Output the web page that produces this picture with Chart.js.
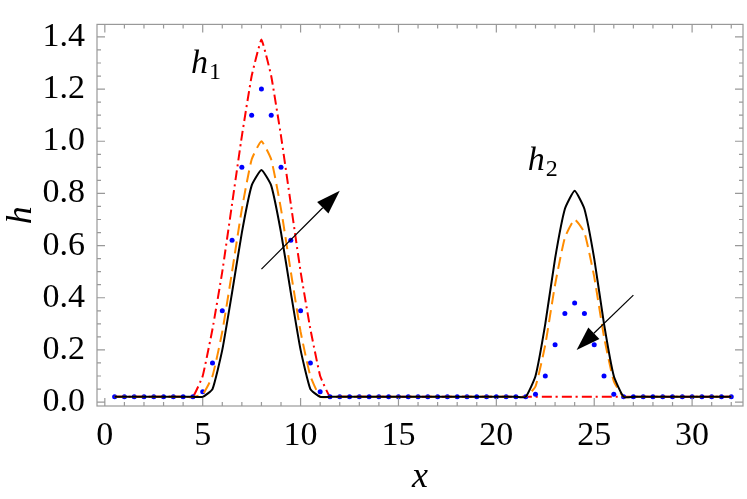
<!DOCTYPE html>
<html>
<head>
<script src="https://cdn.jsdelivr.net/npm/chart.js@4"></script>
<style>body{margin:0;background:#fff}#wrap{width:747px;height:499px}</style>
</head>
<body>
<div id="wrap"><canvas id="chart"></canvas></div>
<script>
// x positions, step 0.5
const xs = [0.5,1,1.5,2,2.5,3,3.5,4,4.5,5,5.5,6,6.5,7,7.5,8,8.5,9,9.5,10,10.5,11,11.5,12,12.5,13,13.5,14,14.5,15,15.5,16,
  16.5,17,17.5,18,18.5,19,19.5,20,20.5,21,21.5,22,22.5,23,23.5,24,24.5,25,25.5,26,26.5,27,27.5,28,28.5,29,29.5,30,30.5,31,31.5,32];
const black = [0.02,0.02,0.02,0.02,0.02,0.02,0.02,0.02,0.02,0.02,0.05,0.2,0.42,0.65,0.83,0.89,0.83,0.65,0.42,0.2,0.05,0.02,0.02,0.02,0.02,0.02,0.02,0.02,0.02,0.02,0.02,0.02,
  0.02,0.02,0.02,0.02,0.02,0.02,0.02,0.02,0.02,0.02,0.02,0.1,0.3,0.55,0.74,0.81,0.74,0.55,0.3,0.1,0.02,0.02,0.02,0.02,0.02,0.02,0.02,0.02,0.02,0.02,0.02,0.02];
const orange = [0.02,0.02,0.02,0.02,0.02,0.02,0.02,0.02,0.02,0.03,0.1,0.27,0.5,0.74,0.93,1.0,0.93,0.74,0.5,0.27,0.1,0.02,0.02,0.02,0.02,0.02,0.02,0.02,0.02,0.02,0.02,0.02,
  0.02,0.02,0.02,0.02,0.02,0.02,0.02,0.02,0.02,0.02,0.02,0.06,0.22,0.45,0.63,0.7,0.65,0.48,0.25,0.08,0.02,0.02,0.02,0.02,0.02,0.02,0.02,0.02,0.02,0.02,0.02,0.02];
const blue = [0.02,0.02,0.02,0.02,0.02,0.02,0.02,0.02,0.02,0.04,0.15,0.35,0.62,0.9,1.1,1.2,1.1,0.9,0.62,0.35,0.15,0.04,0.02,0.02,0.02,0.02,0.02,0.02,0.02,0.02,0.02,0.02,
  0.02,0.02,0.02,0.02,0.02,0.02,0.02,0.02,0.02,0.02,0.02,0.03,0.1,0.22,0.34,0.38,0.34,0.22,0.1,0.03,0.02,0.02,0.02,0.02,0.02,0.02,0.02,0.02,0.02,0.02,0.02,0.02];
const red = [0.02,0.02,0.02,0.02,0.02,0.02,0.02,0.02,0.02,0.1,0.28,0.5,0.76,1.02,1.25,1.39,1.25,1.02,0.76,0.5,0.28,0.1,0.02,0.02,0.02,0.02,0.02,0.02,0.02,0.02,0.02,0.02,
  0.02,0.02,0.02,0.02,0.02,0.02,0.02,0.02,0.02,0.02,0.02,0.02,0.02,0.02,0.02,0.02,0.02,0.02,0.02,0.02,0.02,0.02,0.02,0.02,0.02,0.02,0.02,0.02,0.02,0.02,0.02,0.02];
const xTicks = [0,5,10,15,20,25,30];
const yTicks = [0,0.2,0.4,0.6,0.8,1.0,1.2,1.4];

const pts = ys => xs.map((x, i) => ({x: x, y: ys[i]}));
const serif = "Liberation Serif, DejaVu Serif, serif";

// frame, inner ticks, labels and arrows
const decor = {
  id: "decor",
  afterDraw(chart) {
    const c = chart.ctx, a = chart.chartArea, sx = chart.scales.x, sy = chart.scales.y;
    c.save();
    c.strokeStyle = "#999"; c.lineWidth = 1.2;
    c.strokeRect(a.left, a.top, a.right - a.left, a.bottom - a.top);
    for (let v = 0; v <= 32; v++) {
      const p = sx.getPixelForValue(v), len = v % 5 === 0 ? 8 : 4;
      c.beginPath(); c.moveTo(p, a.bottom); c.lineTo(p, a.bottom - len);
      c.moveTo(p, a.top); c.lineTo(p, a.top + len); c.stroke();
    }
    for (let v = 0; v <= 1.45; v += 0.05) {
      const p = sy.getPixelForValue(v), len = Math.round(v * 20) % 4 === 0 ? 8 : 4;
      c.beginPath(); c.moveTo(a.left, p); c.lineTo(a.left + len, p);
      c.moveTo(a.right, p); c.lineTo(a.right - len, p); c.stroke();
    }
    const label = (txt, sub, x, y) => {
      const px = sx.getPixelForValue(x), py = sy.getPixelForValue(y);
      c.fillStyle = "#000"; c.textBaseline = "alphabetic";
      c.font = "italic 34px " + serif; c.fillText(txt, px, py);
      const w = c.measureText(txt).width;
      c.font = "24px " + serif; c.fillText(sub, px + w + 1, py + 6);
    };
    label("h", "1", 4.4, 1.26);
    label("h", "2", 21.6, 0.89);
    const arrow = (x0, y0, x1, y1) => {
      const ax = sx.getPixelForValue(x0), ay = sy.getPixelForValue(y0);
      const bx = sx.getPixelForValue(x1), by = sy.getPixelForValue(y1);
      const ang = Math.atan2(by - ay, bx - ax), L = 24, W = 8;
      const hx = bx - L * Math.cos(ang), hy = by - L * Math.sin(ang);
      c.strokeStyle = "#000"; c.lineWidth = 1.2;
      c.beginPath(); c.moveTo(ax, ay); c.lineTo(hx, hy); c.stroke();
      c.fillStyle = "#000"; c.beginPath(); c.moveTo(bx, by);
      c.lineTo(hx + W * Math.sin(ang), hy - W * Math.cos(ang));
      c.lineTo(hx - W * Math.sin(ang), hy + W * Math.cos(ang));
      c.closePath(); c.fill();
    };
    arrow(8.0, 0.51, 12.0, 0.81);
    arrow(27.0, 0.41, 24.1, 0.2);
    c.restore();
  }
};

new Chart(document.getElementById("chart"), {
  type: "scatter",
  data: {
    datasets: [
      {data: pts(black), showLine: true, borderColor: "#000", borderWidth: 2, pointRadius: 0, tension: 0.15},
      {data: pts(orange), showLine: true, borderColor: "#ff8c00", borderWidth: 2, borderDash: [12, 6], pointRadius: 0, tension: 0.15},
      {data: pts(blue), showLine: false, backgroundColor: "#0000ff", borderWidth: 0, pointRadius: 2.5},
      {data: pts(red), showLine: true, borderColor: "#ff0000", borderWidth: 2, borderDash: [10, 4, 2, 4], pointRadius: 0, tension: 0.1}
    ]
  },
  options: {
    responsive: true, maintainAspectRatio: false, animation: false,
    layout: {padding: {top: 14, right: 2, left: 0, bottom: 0}},
    plugins: {legend: {display: false}, tooltip: {enabled: false}},
    scales: {
      x: {
        type: "linear", min: -0.4, max: 32.6,
        afterBuildTicks: s => { s.ticks = xTicks.map(v => ({value: v})); },
        afterFit: s => { s.height = 93; },
        grid: {display: false}, border: {display: false},
        ticks: {color: "#000", font: {family: serif, size: 34}, padding: 2},
        title: {display: true, text: "x", color: "#000", font: {family: serif, size: 36, style: "italic"}, padding: 0}
      },
      y: {
        min: -0.015, max: 1.448,
        afterBuildTicks: s => { s.ticks = yTicks.map(v => ({value: v})); },
        afterFit: s => { s.width = 97; },
        grid: {display: false}, border: {display: false},
        ticks: {color: "#000", font: {family: serif, size: 34}, padding: 4, callback: v => v.toFixed(1)},
        title: {display: true, text: "h", color: "#000", font: {family: serif, size: 36, style: "italic"}, padding: 0}
      }
    }
  },
  plugins: [decor]
});
</script>
</body>
</html>
